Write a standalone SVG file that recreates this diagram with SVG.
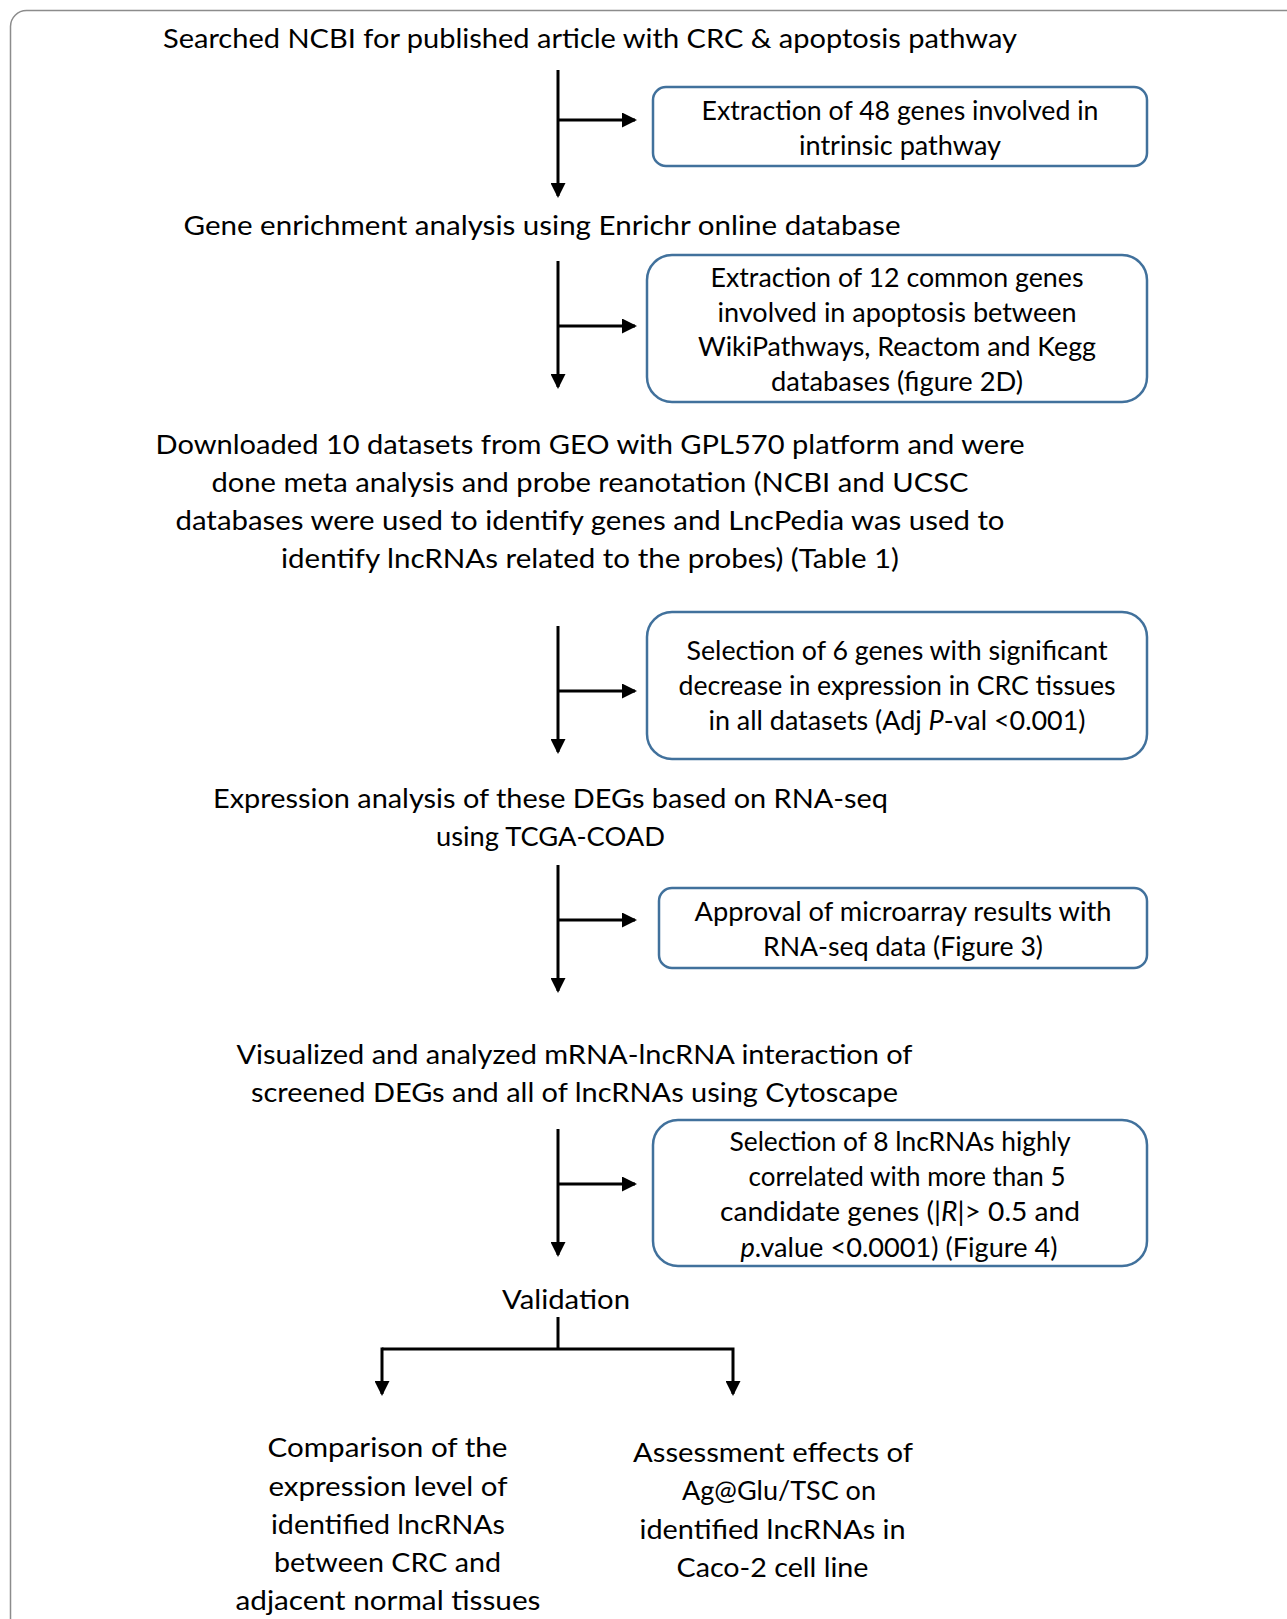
<svg xmlns="http://www.w3.org/2000/svg" width="1287" height="1619" viewBox="0 0 1287 1619">
<style>
text{font-family:Lato,"Liberation Sans",sans-serif;font-size:26.5px;fill:#000;text-anchor:middle}
.big{font-size:27.5px}
.box{fill:#fff;stroke:#41719C;stroke-width:2.5}
.con{stroke:#000;stroke-width:3;fill:none}
.it{font-style:italic}
</style>
<defs>
<marker id="ah" markerUnits="userSpaceOnUse" markerWidth="15" markerHeight="15" refX="13" refY="7.5" orient="auto" viewBox="0 0 15 15">
<path d="M0,0 L15,7.5 L0,15 z" fill="#000"/>
</marker>
</defs>
<rect x="10.5" y="10.5" width="1400" height="1700" rx="16" fill="#fff" stroke="#8c8c8c" stroke-width="1.5"/>

<g id="connectors">
<line class="con" x1="558" y1="70" x2="558" y2="196" marker-end="url(#ah)"/>
<line class="con" x1="558" y1="120" x2="635" y2="120" marker-end="url(#ah)"/>
<line class="con" x1="558" y1="261" x2="558" y2="387" marker-end="url(#ah)"/>
<line class="con" x1="558" y1="326" x2="635" y2="326" marker-end="url(#ah)"/>
<line class="con" x1="558" y1="626" x2="558" y2="752" marker-end="url(#ah)"/>
<line class="con" x1="558" y1="691" x2="635" y2="691" marker-end="url(#ah)"/>
<line class="con" x1="558" y1="865" x2="558" y2="991" marker-end="url(#ah)"/>
<line class="con" x1="558" y1="920" x2="635" y2="920" marker-end="url(#ah)"/>
<line class="con" x1="558" y1="1129" x2="558" y2="1255" marker-end="url(#ah)"/>
<line class="con" x1="558" y1="1184" x2="635" y2="1184" marker-end="url(#ah)"/>
<line class="con" x1="558" y1="1317" x2="558" y2="1349"/>
<polyline class="con" points="382,1349 733,1349 733,1394" marker-end="url(#ah)"/>
<line class="con" x1="382" y1="1347.5" x2="382" y2="1394" marker-end="url(#ah)"/>
</g>

<g id="n1">
<text x="590" y="48" textLength="854" lengthAdjust="spacingAndGlyphs">Searched NCBI for published article with CRC &amp; apoptosis pathway</text>
</g>
<g id="n2">
<rect class="box" x="653" y="87" width="494" height="79" rx="13"/>
<text x="900" y="120" textLength="397" lengthAdjust="spacingAndGlyphs">Extraction of 48 genes involved in</text>
<text x="900" y="154.5" textLength="202" lengthAdjust="spacingAndGlyphs">intrinsic pathway</text>
</g>
<g id="n3">
<text x="542" y="235" textLength="717" lengthAdjust="spacingAndGlyphs">Gene enrichment analysis using Enrichr online database</text>
</g>
<g id="n4">
<rect class="box" x="647" y="255" width="500" height="147" rx="25"/>
<text x="897" y="287" textLength="373" lengthAdjust="spacingAndGlyphs">Extraction of 12 common genes</text>
<text x="897" y="321.5" textLength="359" lengthAdjust="spacingAndGlyphs">involved in apoptosis between</text>
<text x="897" y="356" textLength="398" lengthAdjust="spacingAndGlyphs">WikiPathways, Reactom and Kegg</text>
<text x="897" y="391" textLength="252" lengthAdjust="spacingAndGlyphs">databases (figure 2D)</text>
</g>
<g id="n5">
<text x="590" y="454" textLength="869" lengthAdjust="spacingAndGlyphs">Downloaded 10 datasets from GEO with GPL570 platform and were</text>
<text x="590" y="492" textLength="757" lengthAdjust="spacingAndGlyphs">done meta analysis and probe reanotation (NCBI and UCSC</text>
<text x="590" y="530" textLength="829" lengthAdjust="spacingAndGlyphs">databases were used to identify genes and LncPedia was used to</text>
<text x="590" y="568" textLength="618" lengthAdjust="spacingAndGlyphs">identify lncRNAs related to the probes) (Table 1)</text>
</g>
<g id="n6">
<rect class="box" x="647" y="612" width="500" height="147" rx="25"/>
<text x="897" y="660" textLength="421" lengthAdjust="spacingAndGlyphs">Selection of 6 genes with significant</text>
<text x="897" y="695" textLength="437" lengthAdjust="spacingAndGlyphs">decrease in expression in CRC tissues</text>
<text x="897" y="730" textLength="377" lengthAdjust="spacingAndGlyphs">in all datasets (Adj <tspan class="it">P</tspan>-val &lt;0.001)</text>
</g>
<g id="n7">
<text x="550.5" y="808" textLength="675" lengthAdjust="spacingAndGlyphs">Expression analysis of these DEGs based on RNA-seq</text>
<text x="550.5" y="846" textLength="229" lengthAdjust="spacingAndGlyphs">using TCGA-COAD</text>
</g>
<g id="n8">
<rect class="box" x="659" y="888" width="488" height="80" rx="13"/>
<text x="903" y="921" textLength="417" lengthAdjust="spacingAndGlyphs">Approval of microarray results with</text>
<text x="903" y="956" textLength="280" lengthAdjust="spacingAndGlyphs">RNA-seq data (Figure 3)</text>
</g>
<g id="n9">
<text x="574.5" y="1064" textLength="676" lengthAdjust="spacingAndGlyphs">Visualized and analyzed mRNA-lncRNA interaction of</text>
<text x="574.5" y="1102" textLength="647" lengthAdjust="spacingAndGlyphs">screened DEGs and all of lncRNAs using Cytoscape</text>
</g>
<g id="n10">
<rect class="box" x="653" y="1120" width="494" height="146" rx="25"/>
<text x="900" y="1151" textLength="341" lengthAdjust="spacingAndGlyphs">Selection of 8 lncRNAs highly</text>
<text x="907" y="1186" textLength="317" lengthAdjust="spacingAndGlyphs">correlated with more than 5</text>
<text x="900" y="1221" textLength="360" lengthAdjust="spacingAndGlyphs">candidate genes (|<tspan class="it">R</tspan>|&gt; 0.5 and</text>
<text x="899" y="1256.5" textLength="317" lengthAdjust="spacingAndGlyphs"><tspan class="it">p</tspan>.value &lt;0.0001) (Figure 4)</text>
</g>
<g id="n11">
<text x="566" y="1309" textLength="128" lengthAdjust="spacingAndGlyphs">Validation</text>
</g>
<g id="n12">
<text class="big" x="387.5" y="1457" textLength="240" lengthAdjust="spacingAndGlyphs">Comparison of the</text>
<text class="big" x="388" y="1495.5" textLength="239" lengthAdjust="spacingAndGlyphs">expression level of</text>
<text class="big" x="388" y="1534" textLength="234" lengthAdjust="spacingAndGlyphs">identified lncRNAs</text>
<text class="big" x="387.5" y="1572" textLength="227" lengthAdjust="spacingAndGlyphs">between CRC and</text>
<text class="big" x="388" y="1610" textLength="305" lengthAdjust="spacingAndGlyphs">adjacent normal tissues</text>
</g>
<g id="n13">
<text class="big" x="773" y="1462" textLength="280" lengthAdjust="spacingAndGlyphs">Assessment effects of</text>
<text class="big" x="779" y="1500" textLength="194" lengthAdjust="spacingAndGlyphs">Ag@Glu/TSC on</text>
<text class="big" x="772.5" y="1538.5" textLength="266" lengthAdjust="spacingAndGlyphs">identified lncRNAs in</text>
<text class="big" x="772.5" y="1577" textLength="192" lengthAdjust="spacingAndGlyphs">Caco-2 cell line</text>
</g>
</svg>
